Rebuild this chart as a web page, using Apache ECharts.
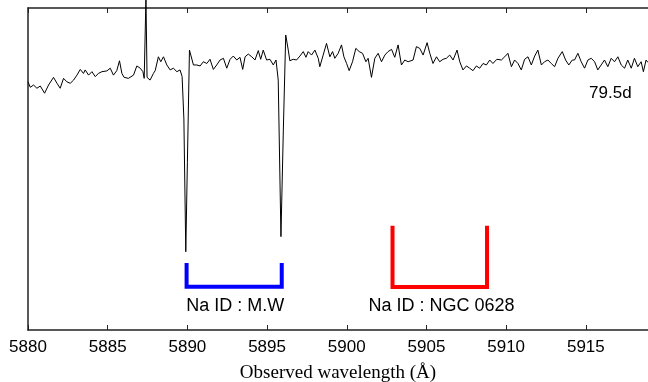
<!DOCTYPE html>
<html>
<head>
<meta charset="utf-8">
<script src="https://cdn.jsdelivr.net/npm/echarts@6/dist/echarts.min.js"></script>
<style>
html,body{margin:0;padding:0;background:#fff;}
#chart{width:648px;height:382px;}
</style>
</head>
<body>
<div id="chart"></div>
<script>
// Observed wavelength (Å)
const wavelength = [
5880.00,5880.14,5880.35,5880.56,5880.77,5881.04,5881.29,5881.60,5881.82,5882.02,
5882.23,5882.44,5882.65,5882.86,5883.07,5883.28,5883.48,5883.59,5883.80,5884.01,
5884.22,5884.42,5884.64,5884.95,5885.16,5885.36,5885.57,5885.74,5885.89,5886.03,
5886.30,5886.62,5886.83,5887.04,5887.21,5887.29,5887.36,5887.40,5887.47,5887.66,
5887.87,5887.98,5888.18,5888.33,5888.50,5888.71,5888.92,5889.12,5889.34,5889.54,
5889.67,5889.78,5889.90,5890.00,5890.13,5890.38,5890.59,5890.80,5891.00,5891.22,
5891.42,5891.63,5891.84,5892.05,5892.26,5892.47,5892.68,5892.88,5893.10,5893.30,
5893.47,5893.62,5893.82,5894.04,5894.24,5894.45,5894.60,5894.76,5894.97,5895.18,
5895.39,5895.56,5895.70,5895.87,5896.02,5896.17,5896.33,5896.43,5896.64,5896.85,
5897.06,5897.27,5897.44,5897.58,5897.79,5898.00,5898.21,5898.31,5898.52,5898.73,
5898.94,5899.11,5899.25,5899.46,5899.67,5899.82,5899.99,5900.15,5900.36,5900.57,
5900.78,5900.99,5901.20,5901.34,5901.55,5901.76,5901.97,5902.18,5902.39,5902.59,
5902.81,5903.01,5903.22,5903.43,5903.64,5903.85,5904.16,5904.37,5904.58,5904.79,
5905.04,5905.21,5905.41,5905.63,5905.83,5906.04,5906.25,5906.46,5906.67,5906.92,
5907.09,5907.29,5907.51,5907.71,5907.92,5908.13,5908.34,5908.55,5908.76,5908.97,
5909.17,5909.42,5909.70,5909.91,5910.11,5910.33,5910.53,5910.74,5910.95,5911.16,
5911.37,5911.58,5911.79,5911.99,5912.21,5912.41,5912.62,5912.83,5913.04,5913.25,
5913.52,5913.73,5913.93,5914.15,5914.29,5914.50,5914.71,5914.92,5915.13,5915.34,
5915.55,5915.75,5915.96,5916.17,5916.38,5916.59,5916.80,5917.01,5917.22,5917.43,
5917.63,5917.85,5918.05,5918.26,5918.47,5918.61,5918.78,5918.90
];
// Normalised flux
const flux = [
1.002,0.980,0.989,0.976,0.985,0.956,0.989,1.020,0.996,0.976,
1.016,1.002,0.996,1.009,1.029,1.052,1.036,1.050,1.029,1.043,
1.023,1.036,1.043,1.046,1.057,1.029,1.047,1.087,1.036,1.020,
1.016,1.029,1.066,1.057,1.043,1.016,1.020,1.340,1.020,1.009,
1.036,1.047,1.103,1.083,1.103,1.070,1.050,1.057,1.043,1.050,
1.023,0.852,0.316,0.675,1.130,1.070,1.070,1.066,1.083,1.076,
1.093,1.052,1.070,1.090,1.097,1.057,1.093,1.106,1.090,1.101,
1.052,1.103,1.114,1.103,1.090,1.128,1.093,1.130,1.090,1.093,
1.070,1.090,1.009,0.377,0.807,1.191,1.130,1.087,1.093,1.090,
1.106,1.124,1.101,1.124,1.110,1.130,1.097,1.063,1.110,1.157,
1.103,1.124,1.097,1.117,1.151,1.103,1.076,1.047,1.083,1.137,
1.124,1.117,1.083,1.097,1.020,1.097,1.117,1.083,1.110,1.124,
1.133,1.101,1.151,1.070,1.090,1.083,1.090,1.144,1.137,1.110,
1.160,1.117,1.076,1.103,1.083,1.093,1.097,1.110,1.090,1.130,
1.083,1.050,1.066,1.057,1.047,1.066,1.057,1.076,1.070,1.090,
1.076,1.093,1.090,1.103,1.117,1.063,1.090,1.076,1.050,1.093,
1.103,1.070,1.106,1.130,1.070,1.083,1.090,1.076,1.063,1.097,
1.124,1.090,1.070,1.090,1.090,1.117,1.083,1.057,1.090,1.097,
1.083,1.050,1.070,1.090,1.063,1.097,1.083,1.103,1.070,1.057,
1.090,1.057,1.097,1.063,1.083,1.043,1.090,1.080
];
const xTicks = [5880, 5885, 5890, 5895, 5900, 5905, 5910, 5915];
// Na I D doublet markers: [wavelength, flux]
const mwBracket = [[5889.95, 0.27], [5889.95, 0.175], [5895.92, 0.175], [5895.92, 0.27]];
const ngcBracket = [[5902.87, 0.421], [5902.87, 0.174], [5908.80, 0.174], [5908.80, 0.421]];
const annotations = [
  {name: 'Na ID : M.W', value: [5893.0, 0.095], size: 18},
  {name: 'Na ID : NGC 0628', value: [5905.94, 0.095], size: 18},
  {name: '79.5d', value: [5916.54, 0.957], size: 17}
];

const spectrum = wavelength.map((w, i) => [w, flux[i]]);
const chart = echarts.init(document.getElementById('chart'), null, {renderer: 'canvas'});
const xMin = 5880, xMax = 5918.9;
const labelFont = 'Liberation Sans';
chart.setOption({
  animation: false,
  backgroundColor: '#fff',
  grid: {left: 28, right: 0, top: 8, bottom: 52, containLabel: false, outerBoundsMode: 'none'},
  xAxis: [{
    type: 'value', min: xMin, max: xMax, interval: 5, position: 'bottom',
    name: 'Observed wavelength (Å)', nameLocation: 'middle', nameGap: 34,
    nameTextStyle: {fontFamily: 'Liberation Serif', fontSize: 19, color: '#000'},
    axisLine: {show: true, lineStyle: {color: '#222', width: 1.5}},
    axisTick: {show: true, inside: true, length: 5, lineStyle: {color: '#222', width: 1}},
    axisLabel: {
      show: true, margin: 9, color: '#000', fontFamily: labelFont, fontSize: 17,
      showMaxLabel: false,
      formatter: v => xTicks.indexOf(Math.round(v)) >= 0 && Math.abs(v - Math.round(v)) < 1e-6 ? String(Math.round(v)) : ''
    },
    splitLine: {show: false}
  }, {
    type: 'value', min: xMin, max: xMax, interval: 5, position: 'top',
    axisLine: {show: true, lineStyle: {color: '#222', width: 1.5}},
    axisTick: {show: true, inside: true, length: 5, lineStyle: {color: '#222', width: 1}},
    axisLabel: {show: false},
    splitLine: {show: false}
  }],
  yAxis: {
    type: 'value', min: 0, max: 1.3,
    axisLine: {show: true, lineStyle: {color: '#222', width: 1.5}},
    axisTick: {show: false}, axisLabel: {show: false}, splitLine: {show: false}
  },
  series: [{
    type: 'line', data: spectrum, showSymbol: false, clip: false,
    lineStyle: {color: '#000', width: 1}, z: 3
  }, {
    type: 'line', data: mwBracket, showSymbol: false,
    lineStyle: {color: '#0000ff', width: 4, join: 'miter'}, z: 2
  }, {
    type: 'line', data: ngcBracket, showSymbol: false,
    lineStyle: {color: '#ff0000', width: 4, join: 'miter'}, z: 2
  }, {
    type: 'custom', coordinateSystem: 'cartesian2d', silent: true, z: 4,
    data: annotations.map(a => a.value),
    renderItem: (params, api) => {
      const a = annotations[params.dataIndex];
      const p = api.coord([api.value(0), api.value(1)]);
      return {
        type: 'text', x: p[0], y: p[1],
        style: {text: a.name, fill: '#000', font: a.size + 'px "' + labelFont + '"',
          align: 'center', verticalAlign: 'middle'}
      };
    }
  }]
});
</script>
</body>
</html>
